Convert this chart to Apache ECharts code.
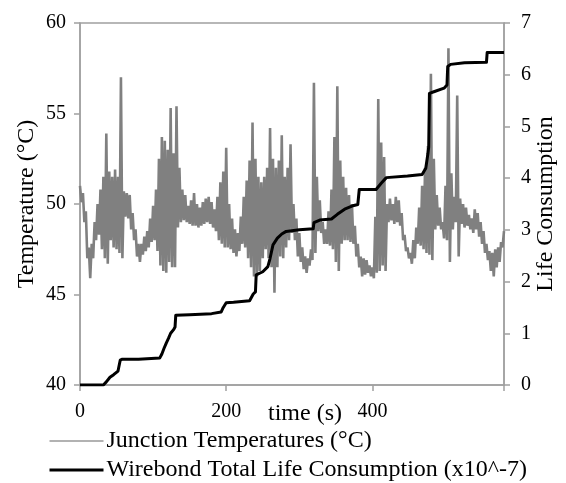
<!DOCTYPE html>
<html>
<head>
<meta charset="utf-8">
<script src="https://cdn.jsdelivr.net/npm/echarts@6/dist/echarts.min.js"></script>
<style>
html,body{margin:0;padding:0;background:#fff;}
#chart{width:566px;height:483px;}
</style>
</head>
<body>
<div id="chart"></div>
<script>
// Temperature samples, one every tempStep seconds (dense oscillating signal)
const tempStep = 2;
const tempValues = [
  51.0,50.1,50.6,49.0,49.6,47.0,47.6,45.9,47.8,47.0,
  49.0,48.0,50.0,48.3,50.8,47.5,51.5,47.0,53.9,46.7,
  51.8,48.0,51.5,47.6,51.9,47.5,51.5,47.3,57.0,47.0,
  50.7,49.3,50.6,49.2,50.5,48.6,49.5,48.0,48.6,47.1,
  47.8,46.8,47.8,47.2,48.2,47.4,48.5,47.6,49.2,47.9,
  49.9,48.0,50.8,47.4,52.5,46.6,53.7,46.3,53.5,46.2,
  53.0,46.8,55.3,46.5,52.8,46.5,55.4,48.7,52.0,49.0,
  50.8,49.1,50.5,49.0,49.9,48.9,50.2,48.8,50.6,48.8,
  50.0,48.7,49.8,48.8,50.1,48.9,50.3,49.0,50.4,48.9,
  50.1,48.7,49.7,48.5,50.4,48.0,51.2,47.8,51.8,47.6,
  53.1,47.6,50.0,47.5,49.2,47.3,48.6,47.1,48.4,47.4,
  49.3,47.8,50.4,47.6,51.3,47.0,52.4,46.5,54.5,46.0,
  52.5,46.0,51.5,46.3,51.2,47.0,51.5,47.5,52.0,47.0,
  54.2,46.5,52.5,45.1,52.0,46.5,52.4,47.1,53.8,47.0,
  51.5,47.6,52.0,48.0,53.3,48.4,50.0,48.0,49.2,47.1,
  48.4,46.8,47.6,46.4,47.1,46.2,47.0,46.6,47.5,46.9,
  56.7,47.3,51.5,48.5,50.2,48.4,49.0,47.8,48.6,47.8,
  49.6,47.7,50.8,47.5,53.7,46.8,56.5,46.3,52.4,47.8,
  51.5,48.0,50.9,48.0,50.5,47.9,50.0,47.8,48.8,47.1,
  47.8,46.5,47.1,46.0,47.0,46.1,46.9,46.2,46.6,46.0,
  46.5,45.9,49.3,46.2,55.8,46.3,53.4,46.6,52.6,46.3,
  50.0,49.0,50.3,49.1,50.0,48.9,50.4,49.0,50.2,48.8,
  49.5,48.0,48.3,47.4,47.6,47.0,47.3,46.7,48.0,47.0,
  48.7,47.8,49.8,47.7,51.0,47.5,52.0,47.3,53.2,47.2,
  57.2,46.9,52.5,48.6,50.5,48.8,49.8,48.6,49.0,48.1,
  51.0,48.0,58.6,46.8,51.7,48.6,50.4,49.0,56.0,47.1,
  50.3,48.9,50.0,48.7,49.8,48.8,49.4,48.6,49.2,48.4,
  49.7,48.6,49.5,48.2,49.0,47.8,48.5,47.3,47.8,46.9,
  47.4,46.3,47.3,46.0,47.5,46.5,47.6,46.8,47.9,47.6,
  48.5
];

// Wirebond total life consumption (x10^-7)
const lifeTimes = [0,32,36,41,46,52,54,55,58,80,109,112,115,118,121,124,128,130,131,150,180,193,196,200,210,232,237,240,241,250,257,260,264,270,276,282,300,319,320,328,344,352,362,372,380,382,405,412,419,448,468,473,476,477,478,484,498,502,503,507,526,556,557,580];
const lifeValues = [0,0,0.06,0.15,0.2,0.27,0.3,0.48,0.5,0.5,0.52,0.6,0.71,0.81,0.9,1.0,1.07,1.12,1.35,1.36,1.38,1.41,1.5,1.59,1.6,1.63,1.76,1.8,2.13,2.19,2.29,2.45,2.71,2.84,2.92,2.97,3.0,3.02,3.14,3.19,3.21,3.3,3.4,3.46,3.49,3.78,3.78,3.9,4.01,4.04,4.07,4.19,4.48,4.6,5.64,5.67,5.74,5.8,6.16,6.2,6.23,6.24,6.43,6.43];

const seriesNames = ['Junction Temperatures (°C)', 'Wirebond Total Life Consumption (x10^-7)'];
const xTicks = [0, 200, 400];

const FONT = 'Liberation Serif';
const AXIS_COLOR = '#a0a0a0';

const tempData = tempValues.map((v, i) => [i * tempStep, v]);
const lifeData = lifeTimes.map((t, i) => [t, lifeValues[i]]);

const chart = echarts.init(document.getElementById('chart'), null, {renderer: 'canvas'});
chart.setOption({
  animation: false,
  backgroundColor: '#fff',
  textStyle: {fontFamily: FONT, color: '#000'},
  grid: {left: 80, right: 61, top: 23, bottom: 98, show: true, borderColor: AXIS_COLOR, borderWidth: 1.5, backgroundColor: 'transparent'},
  legend: {
    orient: 'vertical',
    left: 48,
    top: 429,
    itemWidth: 54,
    itemHeight: 14,
    itemGap: 5,
    padding: 0,
    itemStyle: {opacity: 0},
    textStyle: {fontFamily: FONT, fontSize: 24, color: '#000', padding: [0,0,0,-2]},
    data: [
      {name: seriesNames[0], lineStyle: {color: '#999999', width: 1.5}, itemStyle: {opacity: 0}},
      {name: seriesNames[1], lineStyle: {color: '#000000', width: 3}, itemStyle: {opacity: 0}}
    ]
  },
  xAxis: {
    type: 'value',
    min: 0,
    max: 580,
    interval: 200,
    name: 'time (s)',
    nameLocation: 'middle',
    nameGap: 17,
    nameMoveOverlap: false,
    nameTextStyle: {fontFamily: FONT, fontSize: 24, color: '#000', padding: [0,0,0,26], verticalAlign: 'top'},
    axisLine: {show: true, lineStyle: {color: AXIS_COLOR, width: 1.5}},
    axisTick: {show: true, length: 6, lineStyle: {color: AXIS_COLOR, width: 1.5}},
    axisLabel: {fontFamily: FONT, fontSize: 20, color: '#000', margin: 17,
      formatter: v => (xTicks.indexOf(v) >= 0 ? String(v) : '')},
    splitLine: {show: false}
  },
  yAxis: [
    {
      type: 'value', min: 40, max: 60, interval: 5,
      name: 'Temperature (°C)', nameLocation: 'middle', nameRotate: 90, nameGap: 41,
      nameMoveOverlap: false,
      nameTextStyle: {fontFamily: FONT, fontSize: 24, color: '#000'},
      axisLine: {show: true, lineStyle: {color: AXIS_COLOR, width: 1.5}},
      axisTick: {show: true, length: 6, lineStyle: {color: AXIS_COLOR, width: 1.5}},
      axisLabel: {fontFamily: FONT, fontSize: 20, color: '#000', margin: 14},
      splitLine: {show: false}
    },
    {
      type: 'value', min: 0, max: 7, interval: 1, position: 'right',
      name: 'Life Consumption', nameLocation: 'middle', nameRotate: 90, nameGap: 30,
      nameMoveOverlap: false,
      nameTextStyle: {fontFamily: FONT, fontSize: 24, color: '#000'},
      axisLine: {show: true, lineStyle: {color: AXIS_COLOR, width: 1.5}},
      axisTick: {show: true, length: 6, lineStyle: {color: AXIS_COLOR, width: 1.5}},
      axisLabel: {fontFamily: FONT, fontSize: 20, color: '#000', margin: 17},
      splitLine: {show: false}
    }
  ],
  series: [
    {
      name: seriesNames[0], type: 'line', yAxisIndex: 0, data: tempData,
      showSymbol: false, symbol: 'none', smooth: false,
      lineStyle: {color: '#808080', width: 2.6, join: 'bevel'}, itemStyle: {color: '#808080'}, z: 2
    },
    {
      name: seriesNames[1], type: 'line', yAxisIndex: 1, data: lifeData,
      showSymbol: false, symbol: 'none', smooth: false,
      lineStyle: {color: '#000', width: 3, join: 'round'}, itemStyle: {color: '#000'}, z: 3
    }
  ]
});
</script>
</body>
</html>
